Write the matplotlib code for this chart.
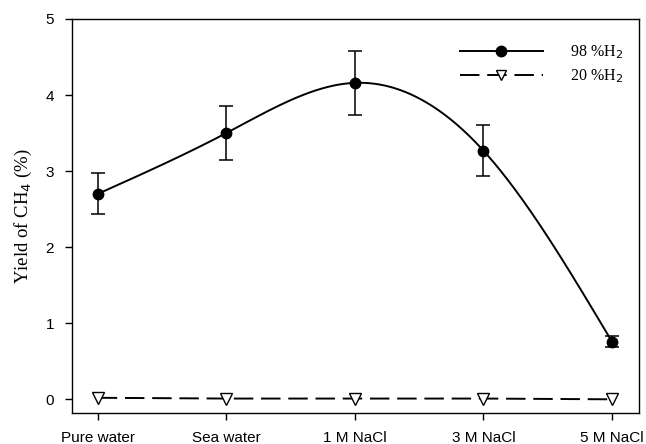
import numpy as np
import matplotlib
matplotlib.use("Agg")
import matplotlib.pyplot as plt

# data
categories = ["Pure water", "Sea water", "1 M NaCl", "3 M NaCl", "5 M NaCl"]
h2_98 = [2.70, 3.50, 4.16, 3.27, 0.76]
h2_98_err = [0.27, 0.35, 0.42, 0.33, 0.07]
h2_20 = [0.02, 0.01, 0.01, 0.01, 0.00]


def natural_spline(x, y, n=400):
    # smooth curve through the points (like SigmaPlot's spline line)
    x = np.asarray(x, float)
    y = np.asarray(y, float)
    k = len(x)
    h = np.diff(x)
    A = np.zeros((k, k))
    b = np.zeros(k)
    A[0, 0] = A[-1, -1] = 1
    for i in range(1, k - 1):
        A[i, i - 1] = h[i - 1]
        A[i, i] = 2 * (h[i - 1] + h[i])
        A[i, i + 1] = h[i]
        b[i] = 6 * ((y[i + 1] - y[i]) / h[i] - (y[i] - y[i - 1]) / h[i - 1])
    m = np.linalg.solve(A, b)
    xs = np.linspace(x[0], x[-1], n)
    idx = np.clip(np.searchsorted(x, xs) - 1, 0, k - 2)
    x0, x1 = x[idx], x[idx + 1]
    hh = x1 - x0
    t0, t1 = x1 - xs, xs - x0
    ys = (m[idx] * t0**3 + m[idx + 1] * t1**3) / (6 * hh) \
        + (y[idx] / hh - m[idx] * hh / 6) * t0 \
        + (y[idx + 1] / hh - m[idx + 1] * hh / 6) * t1
    return xs, ys


x = np.arange(len(categories))

fig = plt.figure(figsize=(6.46, 4.44), dpi=100)
ax = fig.add_axes([0.1115, 0.0698, 0.8775, 0.8875])

xs, ys = natural_spline(x, h2_98)
ax.plot(xs, ys, color="black", lw=1.4)
ax.errorbar(x, h2_98, yerr=h2_98_err, fmt="none", ecolor="black",
            elinewidth=1.1, capsize=5, capthick=1.1)
ax.plot(x, h2_98, "o", color="black", ms=7.5)
ax.plot(x, h2_20, color="black", lw=1.4, dashes=(10, 4),
        marker="v", ms=8.5, mfc="white", mec="black", mew=1.0)

# legend handles
l1, = ax.plot([], [], "-o", color="black", lw=1.4, ms=7.5)
l2, = ax.plot([], [], color="black", lw=1.4, dashes=(10, 4), marker="v",
              ms=7.5, mfc="white", mec="black", mew=1.0)
ax.legend([l1, l2], ["98 %H$_2$", "20 %H$_2$"], loc="upper right",
          bbox_to_anchor=(0.997, 0.975), frameon=False, handlelength=5.2,
          handletextpad=1.7, labelspacing=0.4,
          prop={"family": "Liberation Serif", "size": 11.5})

ax.set_xlim(-0.2, 4.21)
ax.set_ylim(-0.18, 5.0)
ax.set_xticks(x)
ax.set_xticklabels(categories, fontfamily="Liberation Sans", fontsize=11)
ax.set_yticks(range(0, 6))
ax.set_yticklabels([str(v) for v in range(0, 6)], fontfamily="Liberation Sans",
                   fontsize=11)
ax.tick_params(direction="out", length=5, width=1, pad=8)
ax.set_ylabel("Yield of CH$_4$ (%)", fontfamily="Liberation Serif",
              fontsize=13.5, labelpad=8)
for s in ax.spines.values():
    s.set_linewidth(1.0)

fig.savefig("out.png", dpi=100)
